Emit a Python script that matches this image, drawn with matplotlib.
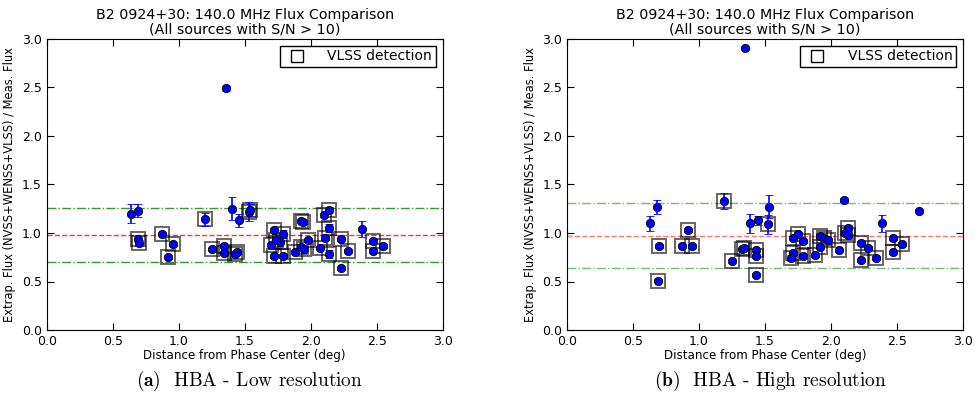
import numpy as np
import matplotlib
matplotlib.use('Agg')
import matplotlib.pyplot as plt
from matplotlib.lines import Line2D

plt.rcParams['mathtext.fontset'] = 'cm'
plt.rcParams['font.family'] = 'DejaVu Sans'

# HBA - low resolution: distance (deg), flux ratio, error, VLSS detection flag
low_dist = [0.64, 0.69, 0.69, 0.70, 0.87, 0.96, 0.92, 1.20, 1.25, 1.34, 1.34,
            1.36, 1.40, 1.46, 1.44, 1.43, 1.53, 1.54, 1.72, 1.79, 1.77, 1.70,
            1.74, 1.72, 1.79, 1.88, 1.93, 1.95, 1.98, 1.93, 1.94, 2.07, 2.11,
            2.10, 2.14, 2.14, 2.14, 2.23, 2.28, 2.23, 2.39, 2.47, 2.47, 2.55]
low_ratio = [1.20, 1.23, 0.94, 0.90, 0.99, 0.89, 0.75, 1.14, 0.83, 0.87, 0.79,
             2.49, 1.25, 1.13, 0.80, 0.78, 1.22, 1.24, 1.03, 0.99, 0.91, 0.88,
             0.93, 0.76, 0.76, 0.80, 0.86, 0.84, 0.93, 1.12, 1.11, 0.85, 0.95,
             1.19, 1.24, 1.05, 0.78, 0.94, 0.81, 0.64, 1.04, 0.92, 0.81, 0.87]
low_err = [0.10, 0.07, 0.03, 0.03, 0.02, 0.02, 0.02, 0.07, 0.02, 0.02, 0.02,
           0.03, 0.12, 0.07, 0.02, 0.02, 0.10, 0.06, 0.02, 0.04, 0.02, 0.02,
           0.02, 0.02, 0.02, 0.02, 0.02, 0.02, 0.02, 0.02, 0.02, 0.02, 0.02,
           0.02, 0.03, 0.04, 0.04, 0.02, 0.02, 0.02, 0.08, 0.02, 0.02, 0.02]
low_vlss = [0, 0, 1, 1, 1, 1, 1, 1, 1, 1, 1,
            0, 0, 0, 1, 1, 1, 1, 1, 1, 1, 1,
            1, 1, 1, 1, 1, 1, 1, 1, 1, 1, 1,
            1, 1, 1, 1, 1, 1, 1, 0, 1, 1, 1]
low_lines = [1.26, 0.98, 0.70]

# HBA - high resolution
high_dist = [0.63, 0.68, 0.70, 0.69, 0.92, 0.87, 0.95, 1.19, 1.25, 1.33, 1.34,
             1.35, 1.39, 1.43, 1.43, 1.43, 1.45, 1.53, 1.52, 1.71, 1.75, 1.79,
             1.71, 1.70, 1.79, 1.88, 1.92, 1.92, 1.95, 1.98, 2.06, 2.10, 2.11,
             2.13, 2.13, 2.23, 2.23, 2.28, 2.34, 2.39, 2.47, 2.47, 2.54, 2.67]
high_ratio = [1.10, 1.27, 0.87, 0.51, 1.03, 0.87, 0.87, 1.33, 0.71, 0.83, 0.85,
              2.91, 1.10, 0.82, 0.76, 0.57, 1.13, 1.27, 1.09, 0.95, 0.99, 0.92,
              0.79, 0.74, 0.76, 0.77, 0.86, 0.97, 0.95, 0.93, 0.82, 1.34, 1.00,
              1.05, 0.98, 0.90, 0.72, 0.85, 0.74, 1.10, 0.95, 0.80, 0.89, 1.23]
high_err = [0.08, 0.07, 0.02, 0.02, 0.02, 0.02, 0.02, 0.08, 0.02, 0.02, 0.02,
            0.02, 0.10, 0.02, 0.02, 0.02, 0.05, 0.12, 0.10, 0.02, 0.02, 0.02,
            0.02, 0.03, 0.02, 0.02, 0.02, 0.02, 0.02, 0.02, 0.02, 0.02, 0.02,
            0.02, 0.02, 0.02, 0.02, 0.02, 0.02, 0.09, 0.02, 0.02, 0.02, 0.02]
high_vlss = [0, 0, 1, 1, 1, 1, 1, 1, 1, 1, 1,
             0, 0, 1, 1, 1, 0, 0, 1, 1, 1, 1,
             1, 1, 1, 1, 1, 1, 1, 1, 1, 0, 1,
             1, 1, 1, 1, 1, 1, 0, 1, 1, 1, 0]
high_lines = [1.31, 0.97, 0.64]

title = 'B2 0924+30: 140.0 MHz Flux Comparison\n(All sources with S/N > 10)'


def draw_panel(ax, dist, ratio, err, vlss, lines, line_alpha):
    dist = np.array(dist)
    ratio = np.array(ratio)
    vlss = np.array(vlss, dtype=bool)
    ax.axhline(lines[0], color='g', ls='-.', lw=1, alpha=line_alpha, zorder=1)
    ax.axhline(lines[1], color='r', ls='--', lw=1, alpha=line_alpha, zorder=1)
    ax.axhline(lines[2], color='g', ls='-.', lw=1, alpha=line_alpha, zorder=1)
    ax.plot(dist[vlss], ratio[vlss], 's', ms=9.5, mfc='none', mec='k',
            mew=1.4, alpha=0.6, zorder=2)
    ax.errorbar(dist, ratio, yerr=err, fmt='o', color='b', mfc='b', mec='k',
                mew=0.6, ms=6, ecolor='b', elinewidth=1.2, capsize=3,
                capthick=1.2, zorder=3)
    ax.set_xlim(0, 3)
    ax.set_ylim(0, 3)
    ax.set_xticks(np.arange(0, 3.01, 0.5))
    ax.set_yticks(np.arange(0, 3.01, 0.5))
    ax.tick_params(direction='in', top=True, right=True, length=5,
                   labelsize=9)
    ax.set_title(title, fontsize=10.3, pad=4, linespacing=1.05)
    ax.set_xlabel('Distance from Phase Center (deg)', fontsize=8.6, labelpad=1)
    ax.set_ylabel('Extrap. Flux (NVSS+WENSS+VLSS) / Meas. Flux', fontsize=8.3,
                  labelpad=4)
    handle = Line2D([], [], marker='s', ls='none', ms=8, mfc='none', mec='k')
    leg = ax.legend([handle], ['VLSS detection'], loc='upper right',
                    numpoints=1, fancybox=False, fontsize=10,
                    borderaxespad=0.5, handletextpad=1.2,
                    borderpad=0.25)
    leg.get_frame().set_edgecolor('k')
    leg.get_frame().set_alpha(1)


fig = plt.figure(figsize=(9.75, 4.0), dpi=100)
ax1 = fig.add_axes([0.048, 0.175, 0.406, 0.7275])
ax2 = fig.add_axes([0.5815, 0.175, 0.406, 0.7275])

draw_panel(ax1, low_dist, low_ratio, low_err, low_vlss, low_lines, 0.8)
draw_panel(ax2, high_dist, high_ratio, high_err, high_vlss, high_lines, 0.55)

fig.text(0.256, 0.035, r'$\mathbf{(a)}$  HBA - Low resolution', ha='center',
         fontsize=14, family='cmr10')
fig.text(0.79, 0.035, r'$\mathbf{(b)}$  HBA - High resolution', ha='center',
         fontsize=14, family='cmr10')

fig.savefig('out.png', dpi=100)
